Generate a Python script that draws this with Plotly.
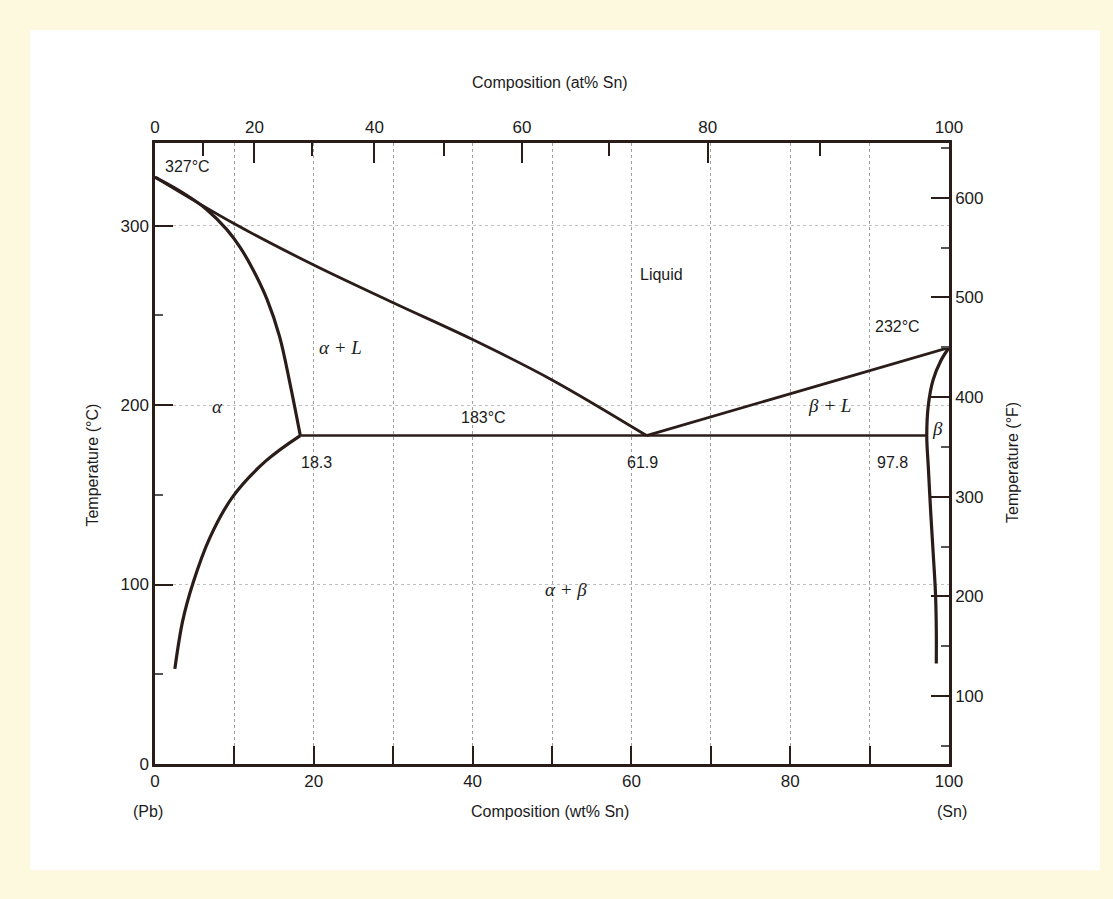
import plotly.graph_objects as go

# ---------------- data (wt% Sn, temperature in deg C) ----------------
LIQ_L_X = [0, 10, 20, 30, 40, 50, 61.9]
LIQ_L_T = [327, 301, 278, 257, 236.5, 214, 183]

SOL_A_X = [0, 3.6, 6.5, 9.0, 10.7, 12.4, 14.1, 15.7, 17.0, 18.3]
SOL_A_T = [327, 318, 309, 298, 288, 275, 259, 238, 212, 183]

SOLV_A_X = [18.3, 14.0, 9.8, 6.9, 4.8, 3.5, 2.5]
SOLV_A_T = [183, 169, 149, 126, 101, 80, 53]

EUT_X = [18.3, 97.2]
EUT_T = [183, 183]

LIQ_R_X = [61.9, 100]
LIQ_R_T = [183, 232]

BETA_X = [100, 99.0, 98.0, 97.4, 97.2, 97.4, 97.7, 98.0, 98.3, 98.4, 98.4]
BETA_T = [232, 225, 214, 200, 183, 165, 140, 118, 95, 75, 56]

WT_TICKS = [0, 10, 20, 30, 40, 50, 60, 70, 80, 90, 100]
WT_LABELS = ["0", "", "20", "", "40", "", "60", "", "80", "", "100"]
AT_MAJOR = [0, 20, 40, 60, 80, 100]
AT_MINOR = [10, 30, 50, 70, 90]
C_TICKS = [0, 100, 200, 300]
C_MINOR = [50, 150, 250]
F_TICKS = [100, 200, 300, 400, 500, 600]
F_MINOR = [50, 150, 250, 350, 450, 550, 650]
C_RANGE = [0, 346]
M_SN, M_PB = 118.71, 207.2

LABELS = [  # (x wt%, T degC, text, font kind, anchor)
    (1.0, 333, "327°C", "sans", "left"),
    (63.8, 273, "Liquid", "sans", "center"),
    (23.4, 232, "<i>α + L</i>", "greek", "center"),
    (7.9, 199, "<i>α</i>", "greek", "center"),
    (41.4, 193, "183°C", "sans", "center"),
    (20.4, 168, "18.3", "sans", "center"),
    (61.4, 168, "61.9", "sans", "center"),
    (92.9, 168, "97.8", "sans", "center"),
    (85.0, 200, "<i>β + L</i>", "greek", "center"),
    (98.6, 187, "<i>β</i>", "greek", "center"),
    (93.5, 244, "232°C", "sans", "center"),
    (51.7, 97, "<i>α + β</i>", "greek", "center"),
]


def at_to_wt(a):
    return 100.0 * a * M_SN / (a * M_SN + (100.0 - a) * M_PB)


def c_to_f(c):
    return c * 9.0 / 5.0 + 32.0


LINE = "#2a1c19"
SANS = "Liberation Sans, Arial, sans-serif"
NARROW = "Liberation Sans Narrow, Liberation Sans, Arial, sans-serif"
SERIF = "Liberation Serif, DejaVu Serif, serif"
TXT = "#1c1c1c"

fig = go.Figure()
curves = [
    (LIQ_L_X, LIQ_L_T, "spline", 2.8),
    (SOL_A_X, SOL_A_T, "spline", 3.2),
    (SOLV_A_X, SOLV_A_T, "spline", 3.2),
    (EUT_X, EUT_T, "linear", 2.6),
    (LIQ_R_X, LIQ_R_T, "linear", 2.8),
    (BETA_X, BETA_T, "spline", 3.2),
]
for xs, ts, shp, w in curves:
    fig.add_trace(go.Scatter(x=xs, y=ts, mode="lines",
                             line=dict(color=LINE, width=w, shape=shp),
                             hoverinfo="skip", showlegend=False))

# invisible trace to activate the secondary axes
fig.add_trace(go.Scatter(x=[0], y=[c_to_f(0)], xaxis="x2", yaxis="y2",
                         mode="markers", marker=dict(opacity=0),
                         showlegend=False, hoverinfo="skip"))

tickfont = dict(family=SANS, size=17, color=TXT)

fig.update_layout(
    width=1113, height=899,
    margin=dict(l=155, r=164, t=143, b=135),
    paper_bgcolor="#fcf9de",
    plot_bgcolor="white",
    showlegend=False,
    xaxis=dict(range=[0, 100], tickmode="array", tickvals=WT_TICKS,
               ticktext=WT_LABELS, ticks="inside", ticklen=18, tickwidth=2,
               tickcolor=LINE, showline=True, linewidth=2.5, linecolor=LINE,
               showgrid=True, gridcolor="#a0a0a0", gridwidth=1, griddash="dot",
               zeroline=False, tickfont=tickfont),
    xaxis2=dict(range=[0, 100], overlaying="x", side="top", tickmode="array",
                tickvals=[at_to_wt(a) for a in AT_MAJOR],
                ticktext=[str(a) for a in AT_MAJOR],
                ticks="inside", ticklen=20, tickwidth=2, tickcolor=LINE,
                minor=dict(tickmode="array",
                           tickvals=[at_to_wt(a) for a in AT_MINOR],
                           ticks="inside", ticklen=13, tickwidth=2,
                           tickcolor=LINE),
                showline=True, linewidth=2.5, linecolor=LINE, showgrid=False,
                zeroline=False, tickfont=tickfont),
    yaxis=dict(range=C_RANGE, tickmode="array", tickvals=C_TICKS,
               ticks="inside", ticklen=18, tickwidth=2, tickcolor=LINE,
               minor=dict(tickmode="array", tickvals=C_MINOR, ticks="inside",
                          ticklen=8, tickwidth=1.5, tickcolor="#555"),
               showline=True, linewidth=2.5, linecolor=LINE,
               showgrid=True, gridcolor="#c0c0c0", gridwidth=1, griddash="dot",
               zeroline=False, tickfont=tickfont),
    yaxis2=dict(range=[c_to_f(c) for c in C_RANGE], overlaying="y",
                side="right", tickmode="array", tickvals=F_TICKS,
                ticks="inside", ticklen=18, tickwidth=2, tickcolor=LINE,
                minor=dict(tickmode="array", tickvals=F_MINOR, ticks="inside",
                           ticklen=8, tickwidth=1.5, tickcolor="#555"),
                showline=True, linewidth=2.5, linecolor=LINE, showgrid=False,
                zeroline=False, tickfont=tickfont),
)

# white sheet on the pale yellow page
fig.add_shape(type="rect", xref="paper", yref="paper",
              x0=-0.157, x1=1.19, y0=-0.171, y1=1.182,
              fillcolor="white", line=dict(width=0), layer="below")

for x, t, s, kind, anc in LABELS:
    if kind == "greek":
        f = dict(family=SERIF, size=19, color=TXT)
    else:
        f = dict(family=SANS, size=16, color=TXT)
    fig.add_annotation(x=x, y=t, xref="x", yref="y", text=s, showarrow=False,
                       xanchor=anc, yanchor="middle", font=f)

titles = [
    (0.497, 1.098, "Composition (at% Sn)", 0),
    (0.497, -0.077, "Composition (wt% Sn)", 0),
    (-0.009, -0.077, "(Pb)", 0),
    (1.004, -0.077, "(Sn)", 0),
    (-0.079, 0.481, "Temperature (°C)", -90),
    (1.079, 0.486, "Temperature (°F)", -90),
]
for px, py, s, ang in titles:
    fig.add_annotation(x=px, y=py, xref="paper", yref="paper", text=s,
                       showarrow=False, textangle=ang, xanchor="center",
                       yanchor="middle",
                       font=dict(family=NARROW, size=16, color=TXT))

fig.write_html("out.html")
